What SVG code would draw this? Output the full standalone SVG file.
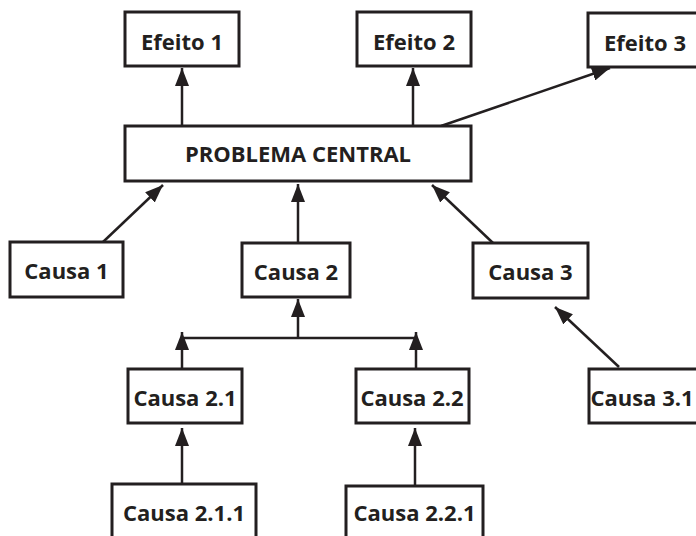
<svg xmlns="http://www.w3.org/2000/svg" width="696" height="536" viewBox="0 0 696 536">
<defs>
<style>
.box{fill:#fff;stroke:#231f20;stroke-width:3}
.lbl{font-family:"Open Sans","Liberation Sans",sans-serif;font-weight:bold;font-size:22px;fill:#231f20;text-anchor:middle}
.con{stroke:#231f20;stroke-width:2.5;fill:none}
</style>
<marker id="ah" markerUnits="userSpaceOnUse" markerWidth="18" markerHeight="14" refX="18" refY="7" orient="auto">
<path d="M0,0 L18,7 L0,14 z" fill="#231f20"/>
</marker>
</defs>
<rect width="696" height="536" fill="#fff"/>
<g id="connectors">
<line class="con" x1="182" y1="126" x2="182" y2="68" marker-end="url(#ah)"/>
<line class="con" x1="413" y1="126" x2="413" y2="68" marker-end="url(#ah)"/>
<line class="con" x1="441" y1="126" x2="610" y2="68" marker-end="url(#ah)"/>
<line class="con" x1="103" y1="242" x2="163" y2="185" marker-end="url(#ah)"/>
<line class="con" x1="298" y1="243" x2="298" y2="184" marker-end="url(#ah)"/>
<line class="con" x1="493" y1="243" x2="432" y2="185" marker-end="url(#ah)"/>
<line class="con" x1="619" y1="367" x2="555" y2="307" marker-end="url(#ah)"/>
<line class="con" x1="182" y1="338" x2="416" y2="338"/>
<line class="con" x1="298" y1="338" x2="298" y2="299" marker-end="url(#ah)"/>
<line class="con" x1="182" y1="369" x2="182" y2="332" marker-end="url(#ah)"/>
<line class="con" x1="416" y1="369" x2="416" y2="332" marker-end="url(#ah)"/>
<line class="con" x1="182" y1="484" x2="182" y2="428" marker-end="url(#ah)"/>
<line class="con" x1="415" y1="486" x2="415" y2="428" marker-end="url(#ah)"/>
</g>
<g id="efeito1"><rect class="box" x="125" y="12" width="114" height="54"/><text class="lbl" x="182" y="50">Efeito 1</text></g>
<g id="efeito2"><rect class="box" x="357" y="12" width="114" height="54"/><text class="lbl" x="414" y="50">Efeito 2</text></g>
<g id="efeito3"><rect class="box" x="588" y="13" width="116" height="54"/><text class="lbl" x="645" y="51">Efeito 3</text></g>
<g id="problema"><rect class="box" x="125" y="126" width="346" height="55"/><text class="lbl" x="298" y="162">PROBLEMA CENTRAL</text></g>
<g id="causa1"><rect class="box" x="10" y="242" width="113" height="55"/><text class="lbl" x="66.5" y="279">Causa 1</text></g>
<g id="causa2"><rect class="box" x="242" y="243" width="108" height="54"/><text class="lbl" x="296" y="280">Causa 2</text></g>
<g id="causa3"><rect class="box" x="473" y="243" width="115" height="55"/><text class="lbl" x="530.5" y="280">Causa 3</text></g>
<g id="causa21"><rect class="box" x="128" y="369" width="114" height="54"/><text class="lbl" x="185" y="406">Causa 2.1</text></g>
<g id="causa22"><rect class="box" x="356" y="369" width="113" height="54"/><text class="lbl" x="412" y="406">Causa 2.2</text></g>
<g id="causa31"><rect class="box" x="589" y="369" width="116" height="54"/><text class="lbl" x="642" y="406">Causa 3.1</text></g>
<g id="causa211"><rect class="box" x="112" y="484" width="144" height="56"/><text class="lbl" x="184" y="521">Causa 2.1.1</text></g>
<g id="causa221"><rect class="box" x="346" y="486" width="137" height="56"/><text class="lbl" x="414.5" y="521">Causa 2.2.1</text></g>
</svg>
